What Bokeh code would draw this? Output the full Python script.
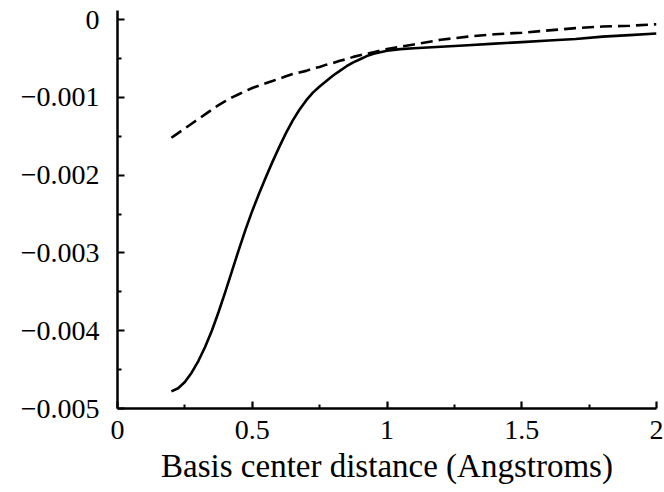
from bokeh.plotting import figure
from bokeh.models import FixedTicker, Range1d
from bokeh.embed import file_html
from bokeh.resources import INLINE

# Basis center distance (Angstroms)
x_vals = [0.200, 0.225, 0.250, 0.275, 0.300, 0.325, 0.350, 0.375, 0.400, 0.425,
          0.450, 0.475, 0.500, 0.525, 0.550, 0.575, 0.600, 0.625, 0.650, 0.675,
          0.700, 0.725, 0.750, 0.775, 0.800, 0.825, 0.850, 0.875, 0.900, 0.925,
          0.950, 0.975, 1.000, 1.050, 1.100, 1.200, 1.300, 1.400, 1.500, 1.600,
          1.700, 1.800, 1.900, 2.000]

# solid curve
solid_vals = [-0.00478, -0.00474, -0.00466, -0.00454, -0.00439, -0.00421, -0.00400,
              -0.00376, -0.00350, -0.00323, -0.00296, -0.00270, -0.00246, -0.00224,
              -0.00203, -0.00183, -0.00164, -0.00146, -0.00130, -0.00116, -0.00104,
              -0.00094, -0.00086, -0.00079, -0.00072, -0.00066, -0.00060, -0.00055,
              -0.00051, -0.00047, -0.00044, -0.00042, -0.00040, -0.00038, -0.00037,
              -0.00035, -0.00033, -0.00031, -0.00029, -0.00027, -0.00025, -0.00022,
              -0.00020, -0.00018]

# dashed curve
dashed_vals = [-0.00152, -0.00146, -0.00140, -0.00134, -0.00128, -0.00122, -0.00116,
               -0.00110, -0.00105, -0.00100, -0.00096, -0.00092, -0.00088, -0.00085,
               -0.00082, -0.00079, -0.00076, -0.00073, -0.00070, -0.00068, -0.00066,
               -0.00063, -0.00061, -0.00058, -0.00056, -0.00053, -0.00051, -0.00048,
               -0.00046, -0.00044, -0.00042, -0.00040, -0.00038, -0.00035, -0.00032,
               -0.00026, -0.00022, -0.00019, -0.00017, -0.00014, -0.00011, -0.00009,
               -0.00008, -0.00006]

x_ticks = [0, 0.5, 1, 1.5, 2]
x_tick_labels = ["0", "0.5", "1", "1.5", "2"]
x_minor = [0.25, 0.75, 1.25, 1.75]
y_ticks = [-0.005, -0.004, -0.003, -0.002, -0.001, 0]
y_tick_labels = ["\u22120.005", "\u22120.004", "\u22120.003", "\u22120.002", "\u22120.001", "0"]
y_minor = [-0.0045, -0.0035, -0.0025, -0.0015, -0.0005]

FONT = "'Liberation Serif', 'Times New Roman', serif"

p = figure(width=664, height=492, output_backend="svg", toolbar_location=None,
           x_range=Range1d(0, 2), y_range=Range1d(-0.005, 0.000116),
           min_border_left=117, min_border_right=8, min_border_top=10,
           min_border_bottom=84)
p.outline_line_color = None
p.grid.grid_line_color = None
p.background_fill_color = "white"
p.border_fill_color = "white"

p.line(x_vals, solid_vals, line_color="black", line_width=2.6, line_join="round")
p.line(x_vals, dashed_vals, line_color="black", line_width=2.6, line_dash="12 6")

for ax, ticks, labels, minor in ((p.xaxis[0], x_ticks, x_tick_labels, x_minor),
                                 (p.yaxis[0], y_ticks, y_tick_labels, y_minor)):
    ax.ticker = FixedTicker(ticks=ticks, minor_ticks=minor)
    ax.major_label_overrides = {t: l for t, l in zip(ticks, labels)}
    ax.axis_line_width = 2.5
    ax.axis_line_color = "black"
    ax.major_tick_in = 7
    ax.major_tick_out = 0
    ax.minor_tick_in = 4
    ax.minor_tick_out = 0
    ax.major_tick_line_width = 2.2
    ax.minor_tick_line_width = 2
    ax.major_tick_line_color = "black"
    ax.minor_tick_line_color = "black"
    ax.major_label_text_font = FONT
    ax.major_label_text_font_size = "28px"
    ax.major_label_text_color = "black"

p.yaxis[0].major_label_standoff = 18
p.xaxis[0].major_label_standoff = 12
p.xaxis[0].axis_label = "Basis center distance (Angstroms)"
p.xaxis[0].axis_label_text_font = FONT
p.xaxis[0].axis_label_text_font_size = "33px"
p.xaxis[0].axis_label_text_font_style = "normal"
p.xaxis[0].axis_label_text_color = "black"
p.xaxis[0].axis_label_standoff = 6

open("out.html", "w").write(file_html(p, INLINE))
